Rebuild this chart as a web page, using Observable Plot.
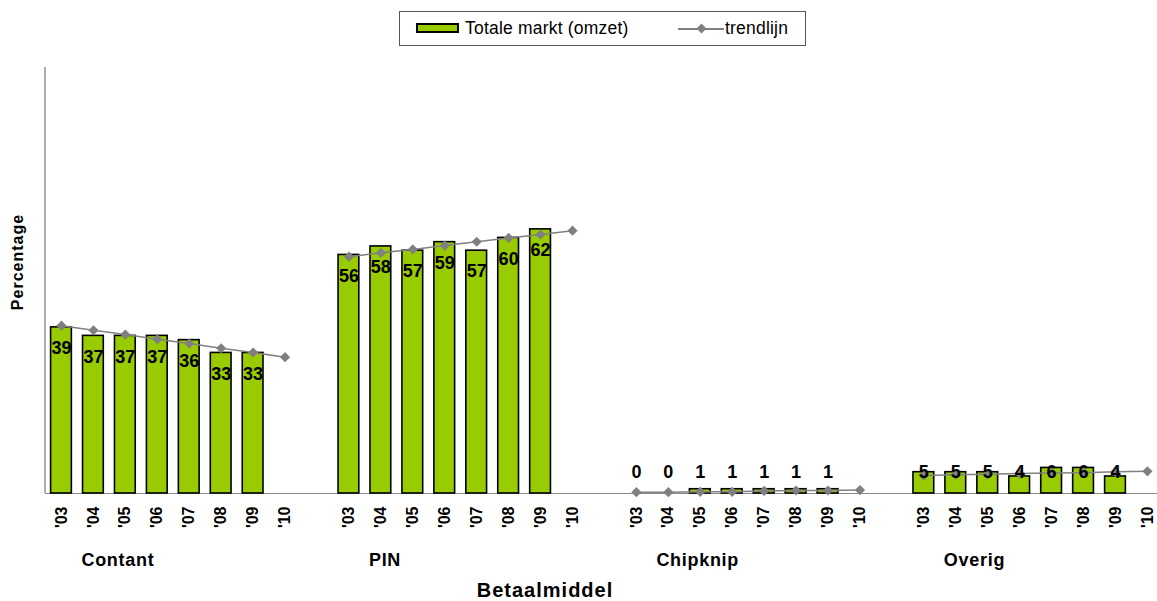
<!DOCTYPE html>
<html>
<head>
<meta charset="utf-8">
<script src="https://cdn.jsdelivr.net/npm/d3@7"></script>
<script src="https://cdn.jsdelivr.net/npm/@observablehq/plot@0.6"></script>
<style>
  body { margin: 0; background: #fff; }
  #wrap { position: relative; width: 1157px; height: 601px; font-family: "Liberation Sans", Arial, sans-serif; color: #000; }
  #wrap svg { position: absolute; left: 0; top: 0; }
  #legend { position: absolute; left: 399px; top: 11px; width: 407px; height: 35px; border: 1px solid #555; box-sizing: border-box; background: #fff; }
  #legend .sw { position: absolute; left: 16px; top: 11px; width: 43px; height: 10px; background: #99cc00; border: 2px solid #000; box-sizing: border-box; }
  #legend .txt { position: absolute; top: 0; line-height: 33px; font-size: 17.5px; letter-spacing: 0.2px; white-space: nowrap; }
  #legend .ln { position: absolute; left: 278px; top: 16px; width: 46px; height: 1.5px; background: #808080; }
  #legend .dm { position: absolute; left: 298px; top: 12.5px; width: 7px; height: 7px; background: #808080; transform: rotate(45deg); }
  .ylabel { position: absolute; left: 18px; top: 262px; transform: translate(-50%, -50%) rotate(-90deg); font-size: 16px; font-weight: bold; letter-spacing: 1px; white-space: nowrap; }
  .xlabel { position: absolute; left: 545px; top: 590px; transform: translate(-50%, -50%); font-size: 20px; font-weight: bold; letter-spacing: 1px; white-space: nowrap; }
  g[aria-description="group labels"] text { letter-spacing: 0.7px; }
</style>
</head>
<body>
<div id="wrap">
  <div id="legend">
    <div class="sw"></div>
    <div class="txt" style="left:65px">Totale markt (omzet)</div>
    <div class="ln"></div>
    <div class="dm"></div>
    <div class="txt" style="left:325px">trendlijn</div>
  </div>
  <div class="ylabel">Percentage</div>
  <div class="xlabel">Betaalmiddel</div>
</div>
<script>
// Payment methods and survey years
const groups = ["Contant", "PIN", "Chipknip", "Overig"];
const years = ["'03", "'04", "'05", "'06", "'07", "'08", "'09", "'10"];

// Share of total market turnover (%), 2003–2009
const contant = [39, 37, 37, 37, 36, 33, 33];
const pin = [56, 58, 57, 59, 57, 60, 62];
const chipknip = [0, 0, 1, 1, 1, 1, 1];
const overig = [5, 5, 5, 4, 6, 6, 4];

// Trend line values, 2003–2010
const trendContant = [39.4, 38.3, 37.3, 36.2, 35.2, 34.1, 33.1, 32.0];
const trendPin = [55.6, 56.5, 57.3, 58.2, 59.1, 60.0, 60.8, 61.7];
const trendChipknip = [0.3, 0.3, 0.4, 0.4, 0.6, 0.7, 0.7, 0.8];
const trendOverig = [4.2, 4.4, 4.5, 4.7, 4.8, 4.9, 5.1, 5.2];

const barSeries = [contant, pin, chipknip, overig];
const trendSeries = [trendContant, trendPin, trendChipknip, trendOverig];

const key = (g, y) => `${g}|${y}`;
// one slot per year plus an empty slot after each group
const slots = groups.flatMap(g => [...years.map(y => key(g, y)), key(g, "gap")]);
const tickSlots = slots.filter(k => !k.endsWith("|gap"));

const bars = groups.flatMap((g, i) => barSeries[i].map((v, j) => ({group: g, key: key(g, years[j]), value: v})));
const trend = groups.flatMap((g, i) => trendSeries[i].map((v, j) => ({group: g, key: key(g, years[j]), value: v})));

const step = 31.94;
const left = 45;

const chart = Plot.plot({
  width: 1157,
  height: 601,
  marginLeft: left,
  marginTop: 67,
  marginBottom: 108,
  marginRight: 0,
  style: {fontFamily: '"Liberation Sans", Arial, sans-serif', background: "transparent", color: "#000"},
  x: {type: "band", domain: slots, range: [left, left + slots.length * step], paddingInner: 0.35, paddingOuter: 0.175, axis: null},
  y: {domain: [0, 100], axis: null},
  marks: [
    Plot.ruleY([0], {stroke: "#8a8a8a", strokeWidth: 1.2}),
    // vertical value axis line
    (index, {y}, values, {marginLeft}) => {
      const line = document.createElementNS("http://www.w3.org/2000/svg", "line");
      line.setAttribute("x1", marginLeft);
      line.setAttribute("x2", marginLeft);
      line.setAttribute("y1", y(0));
      line.setAttribute("y2", y(100));
      line.setAttribute("stroke", "#777");
      line.setAttribute("stroke-width", 1.2);
      return line;
    },
    Plot.barY(bars, {x: "key", y: "value", fill: "#99cc00", stroke: "#000", strokeWidth: 1.6}),
    Plot.line(trend, {x: "key", y: "value", z: "group", stroke: "#808080", strokeWidth: 1.5}),
    Plot.dot(trend, {x: "key", y: "value", symbol: "diamond2", r: 4.6, fill: "#808080"}),
    // labels inside the top of tall bars
    Plot.text(bars, {filter: d => d.value >= 10, x: "key", y: "value", text: d => String(d.value), dy: 21, fontSize: 18, fontWeight: "bold", fill: "#000"}),
    // labels of short bars sit just above the base line
    Plot.text(bars, {filter: d => d.value < 10, x: "key", y: () => 0, text: d => String(d.value), dy: -21, fontSize: 18, fontWeight: "bold", fill: "#000"}),
    // year labels below each slot, reading bottom to top
    Plot.text(tickSlots, {x: d => d, y: () => 0, text: k => k.split("|")[1], rotate: -90, textAnchor: "end", dy: 13, fontSize: 16, fontWeight: "bold", fill: "#000"}),
    Plot.text(groups, {x: g => key(g, years[0]), y: () => 0, text: d => d, dx: 20, dy: 67, textAnchor: "start", fontSize: 18, fontWeight: "bold", fill: "#000", ariaDescription: "group labels"})
  ]
});

document.getElementById("wrap").prepend(chart);
</script>
</body>
</html>
